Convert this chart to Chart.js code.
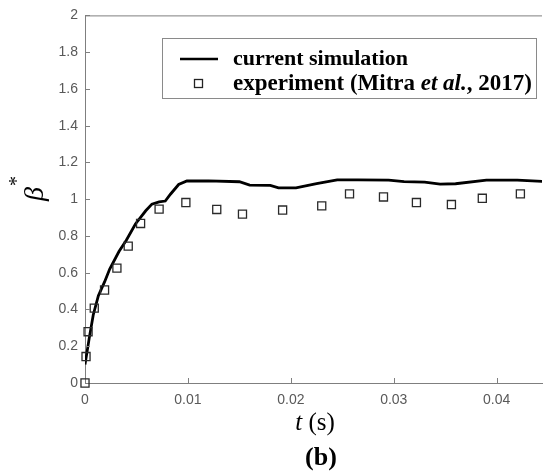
<!DOCTYPE html>
<html>
<head>
<meta charset="utf-8">
<script src="https://cdn.jsdelivr.net/npm/chart.js@4/dist/chart.umd.min.js"></script>
<style>
html,body{margin:0;padding:0;background:#fff;overflow:hidden;}
#wrap{width:549px;height:476px;position:relative;}
</style>
</head>
<body>
<div id="wrap"><canvas id="c" width="549" height="476"></canvas></div>
<script>
// ---- data ----
const simT = [0, 0.0004, 0.0008, 0.0013, 0.0019, 0.0024, 0.0033, 0.0040, 0.0049, 0.0059,
              0.0065, 0.0072, 0.0078, 0.0083, 0.0091, 0.0099, 0.0120, 0.0150, 0.0160, 0.0180,
              0.0188, 0.0205, 0.0225, 0.0245, 0.0265, 0.0295, 0.0310, 0.0330, 0.0345, 0.0360,
              0.0390, 0.0420, 0.0445];
const simB = [0.10, 0.24, 0.37, 0.475, 0.55, 0.62, 0.715, 0.775, 0.865, 0.937,
              0.973, 0.985, 0.99, 1.027, 1.08, 1.099, 1.10, 1.095, 1.077, 1.075,
              1.062, 1.062, 1.085, 1.105, 1.105, 1.104, 1.096, 1.093, 1.082, 1.084,
              1.104, 1.104, 1.097];
const expT = [0, 0.0001, 0.0003, 0.0009, 0.0019, 0.0031, 0.0042, 0.0054, 0.0072, 0.0098,
              0.0128, 0.0153, 0.0192, 0.0230, 0.0257, 0.0290, 0.0322, 0.0356, 0.0386, 0.0423];
const expB = [0, 0.144, 0.279, 0.407, 0.506, 0.625, 0.745, 0.868, 0.946, 0.982,
              0.944, 0.919, 0.941, 0.964, 1.029, 1.012, 0.982, 0.971, 1.005, 1.029];
const xTicks = [0, 0.01, 0.02, 0.03, 0.04];
const yTicks = [0, 0.2, 0.4, 0.6, 0.8, 1, 1.2, 1.4, 1.6, 1.8, 2];
const legendLabels = ['current simulation', 'experiment (Mitra ', 'et al.', ', 2017)'];
const xTitle = ['t', ' (s)'];
const yTitle = ['\u03B2', '*'];
const panelLabel = '(b)';

const AXIS = '#7f7f7f';
const TICKTXT = '#595959';
const SERIF = '"Liberation Serif","Times New Roman",serif';

const simData = simT.map((t, i) => ({x: t, y: simB[i]}));
const expData = expT.map((t, i) => ({x: t, y: expB[i]}));

const decor = {
  id: 'decor',
  afterDraw(chart) {
    const ctx = chart.ctx;
    const a = chart.chartArea;
    const xs = chart.scales.x, ys = chart.scales.y;
    ctx.save();
    // top border
    ctx.strokeStyle = AXIS; ctx.lineWidth = 1;
    ctx.beginPath(); ctx.moveTo(a.left, a.top + 0.5); ctx.lineTo(a.right, a.top + 0.5); ctx.stroke();
    // inward tick marks
    ctx.beginPath();
    xTicks.forEach(v => { if (v === 0) return; const px = Math.round(xs.getPixelForValue(v)) + 0.5;
      ctx.moveTo(px, a.bottom); ctx.lineTo(px, a.bottom - 5); });
    yTicks.forEach(v => { if (v === 0) return; const py = Math.round(ys.getPixelForValue(v)) + 0.5;
      ctx.moveTo(a.left, py); ctx.lineTo(a.left + 5, py); });
    ctx.stroke();

    // legend box
    const lx = 162, ly = 38, lw = 374, lh = 60;
    ctx.fillStyle = '#fff';
    ctx.fillRect(lx, ly, lw, lh);
    ctx.strokeStyle = '#8a8a8a'; ctx.lineWidth = 1;
    ctx.strokeRect(lx + 0.5, ly + 0.5, lw, lh);
    ctx.strokeStyle = '#000'; ctx.lineWidth = 2.6;
    ctx.beginPath(); ctx.moveTo(180, 59); ctx.lineTo(218, 59); ctx.stroke();
    ctx.strokeStyle = '#222'; ctx.lineWidth = 1.3;
    ctx.strokeRect(194.5, 79.5, 8, 8);
    ctx.fillStyle = '#000';
    ctx.textBaseline = 'middle'; ctx.textAlign = 'left';
    ctx.font = 'bold 22px ' + SERIF;
    ctx.fillText(legendLabels[0], 233, 59);
    let x = 233;
    ctx.font = 'bold 23px ' + SERIF;
    ctx.fillText(legendLabels[1], x, 84); x += ctx.measureText(legendLabels[1]).width;
    ctx.font = 'italic bold 23px ' + SERIF;
    ctx.fillText(legendLabels[2], x, 84); x += ctx.measureText(legendLabels[2]).width;
    ctx.font = 'bold 23px ' + SERIF;
    ctx.fillText(legendLabels[3], x, 84);

    // x title "t (s)"
    ctx.font = 'italic 25px ' + SERIF;
    const w1 = ctx.measureText(xTitle[0]).width;
    ctx.font = '25px ' + SERIF;
    const w2 = ctx.measureText(xTitle[1]).width;
    let tx = 315 - (w1 + w2) / 2;
    ctx.font = 'italic 25px ' + SERIF;
    ctx.fillText(xTitle[0], tx, 423);
    ctx.font = '25px ' + SERIF;
    ctx.fillText(xTitle[1], tx + w1, 423);

    // panel label
    ctx.font = 'bold 26px ' + SERIF;
    ctx.textAlign = 'center';
    ctx.fillText(panelLabel, 321, 458);

    // y title beta*
    ctx.translate(32, 190);
    ctx.rotate(-Math.PI / 2);
    ctx.textAlign = 'left';
    ctx.font = 'italic 28px ' + SERIF;
    const bw = ctx.measureText(yTitle[0]).width;
    ctx.fillText(yTitle[0], -bw / 2 - 4, 4);
    ctx.font = '20px ' + SERIF;
    ctx.fillText(yTitle[1], bw / 2 - 3, -14);
    ctx.restore();
  }
};

new Chart(document.getElementById('c'), {
  type: 'scatter',
  data: {
    datasets: [
      { label: 'current simulation', data: simData, showLine: true, borderColor: '#000',
        borderWidth: 2.8, pointRadius: 0, tension: 0, fill: false, order: 2 },
      { label: 'experiment (Mitra et al., 2017)', data: expData, showLine: false,
        pointStyle: 'rect', pointRadius: 5.7, borderColor: '#2a2a2a', borderWidth: 1.3,
        backgroundColor: 'rgba(255,255,255,0)', clip: false, order: 1 }
    ]
  },
  options: {
    responsive: false,
    animation: false,
    devicePixelRatio: 1,
    layout: { padding: { top: 13, left: 0, right: 0, bottom: 0 } },
    plugins: { legend: { display: false }, tooltip: { enabled: false } },
    scales: {
      x: {
        type: 'linear', min: 0, max: 0.0444,
        afterFit(s) { s.height = 93; },
        afterBuildTicks(s) { s.ticks = xTicks.map(v => ({value: v})); },
        ticks: { includeBounds: false, padding: 9, color: TICKTXT, autoSkip: false, maxRotation: 0,
          font: { family: '"Liberation Sans",Arial,sans-serif', size: 14 },
          callback: v => String(+v.toFixed(2)) },
        grid: { display: true, drawOnChartArea: false, drawTicks: false },
        border: { display: true, color: AXIS, width: 1 }
      },
      y: {
        type: 'linear', min: 0, max: 2,
        afterFit(s) { s.width = 85; },
        afterBuildTicks(s) { s.ticks = yTicks.map(v => ({value: v})); },
        ticks: { includeBounds: false, padding: 7, color: TICKTXT, autoSkip: false,
          font: { family: '"Liberation Sans",Arial,sans-serif', size: 14 },
          callback: v => String(+v.toFixed(1)) },
        grid: { display: true, drawOnChartArea: false, drawTicks: false },
        border: { display: true, color: AXIS, width: 1 }
      }
    }
  },
  plugins: [decor]
});
</script>
</body>
</html>
